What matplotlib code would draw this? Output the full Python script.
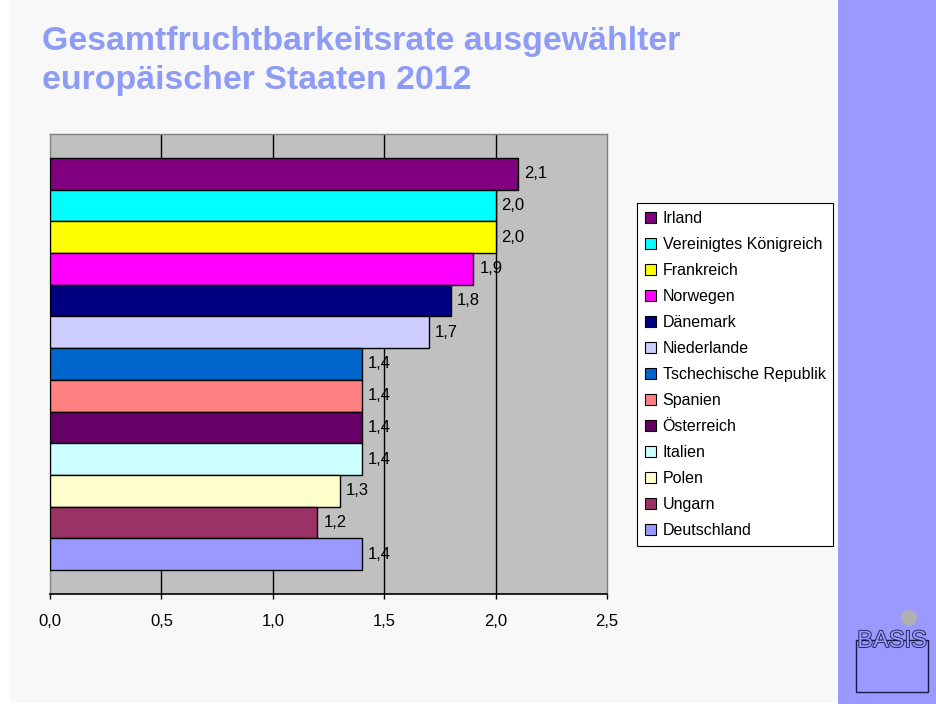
import matplotlib.pyplot as plt
import matplotlib.patches as mpatches
import matplotlib.patheffects as pe

# Daten
laender = ['Irland', 'Vereinigtes Königreich', 'Frankreich', 'Norwegen', 'Dänemark',
           'Niederlande', 'Tschechische Republik', 'Spanien', 'Österreich', 'Italien',
           'Polen', 'Ungarn', 'Deutschland']
werte = [2.1, 2.0, 2.0, 1.9, 1.8, 1.7, 1.4, 1.4, 1.4, 1.4, 1.3, 1.2, 1.4]
farben = ['#800080', '#00FFFF', '#FFFF00', '#FF00FF', '#000080', '#CCCCFF', '#0066CC',
          '#FF8080', '#660066', '#CCFFFF', '#FFFFCC', '#993366', '#9999FF']
x_ticks = [0.0, 0.5, 1.0, 1.5, 2.0, 2.5]

plt.rcParams['font.family'] = ['Liberation Sans', 'DejaVu Sans']

W, H = 937, 704
fig = plt.figure(figsize=(W / 100, H / 100), dpi=100, facecolor='white')

# Hintergrund der Folie
fig.patches.append(mpatches.Rectangle((10 / W, 1 / H), 828 / W, 703 / H, transform=fig.transFigure,
                                      facecolor='#F8F8F8', edgecolor='none', zorder=-2))
fig.patches.append(mpatches.Rectangle((838 / W, 0), 99 / W, 1, transform=fig.transFigure,
                                      facecolor='#9999FF', edgecolor='none', zorder=-2))

# Titel (zwei Zeilen, Grundlinien einzeln gesetzt)
titel_farbe = '#8F9CF5'
fig.text(42 / W, 1 - 50 / H, 'Gesamtfruchtbarkeitsrate ausgewählter', fontsize=24.4,
         fontweight='bold', color=titel_farbe, ha='left', va='baseline')
fig.text(42 / W, 1 - 89 / H, 'europäischer Staaten 2012', fontsize=24.4,
         fontweight='bold', color=titel_farbe, ha='left', va='baseline')

# Diagramm
ax = fig.add_axes([50 / W, 1 - 594 / H, 557 / W, 460 / H])
ax.set_facecolor('#C0C0C0')
pos = list(range(len(laender)))
ax.barh(pos, werte, height=1.0, color=farben, edgecolor='black', linewidth=1.0, zorder=3)
for p, v in zip(pos, werte):
    ax.text(v + 0.027, p, f'{v:.1f}'.replace('.', ','), va='center', ha='left',
            fontsize=12, color='black', zorder=4)

ax.set_xlim(0, 2.5)
ax.set_ylim(12.5 + 0.76, -0.5 - 0.76)
ax.set_xticks(x_ticks)
ax.set_xticklabels([f'{t:.1f}'.replace('.', ',') for t in x_ticks], fontsize=12)
ax.set_yticks([])
for t in x_ticks[1:-1]:
    ax.axvline(t, color='black', linewidth=1.0, zorder=1)
ax.tick_params(axis='x', direction='out', length=3.6, width=1, pad=10.5, color='black')
for s in ['top', 'right', 'left']:
    ax.spines[s].set_color('#808080')
    ax.spines[s].set_linewidth(1.0)
ax.spines['bottom'].set_color('black')
ax.spines['bottom'].set_linewidth(1.2)

# Legende
handles = [mpatches.Patch(facecolor=c, edgecolor='black', linewidth=0.8) for c in farben]
leg = fig.legend(handles, laender, loc='upper left', bbox_to_anchor=(637 / W, 1 - 203 / H),
                 fontsize=11.5, frameon=True, fancybox=False, edgecolor='black', framealpha=1,
                 handlelength=0.7, handleheight=0.7, handletextpad=0.4, labelspacing=0.69,
                 borderpad=0.5, borderaxespad=0)
leg.get_frame().set_linewidth(0.8)

# Logo
fig.patches.append(mpatches.Ellipse((909 / W, 1 - 618 / H), 16 / W, 16 / H, transform=fig.transFigure,
                                    facecolor='#B0B0B0', edgecolor='none', zorder=2))
fig.patches.append(mpatches.Rectangle((856 / W, 1 - 692 / H), 72 / W, 52 / H, transform=fig.transFigure,
                                      facecolor='none', edgecolor='#1a1a4a', linewidth=1.0, zorder=2))
logo = fig.text(892 / W, 1 - 641 / H, 'BASIS', fontsize=17, color='#9999FF',
                ha='center', va='center', fontstretch='condensed', zorder=3)
logo.set_path_effects([pe.Stroke(linewidth=1.2, foreground='#1a1a4a'), pe.Normal()])

fig.savefig('out.png', dpi=100, facecolor=fig.get_facecolor())
